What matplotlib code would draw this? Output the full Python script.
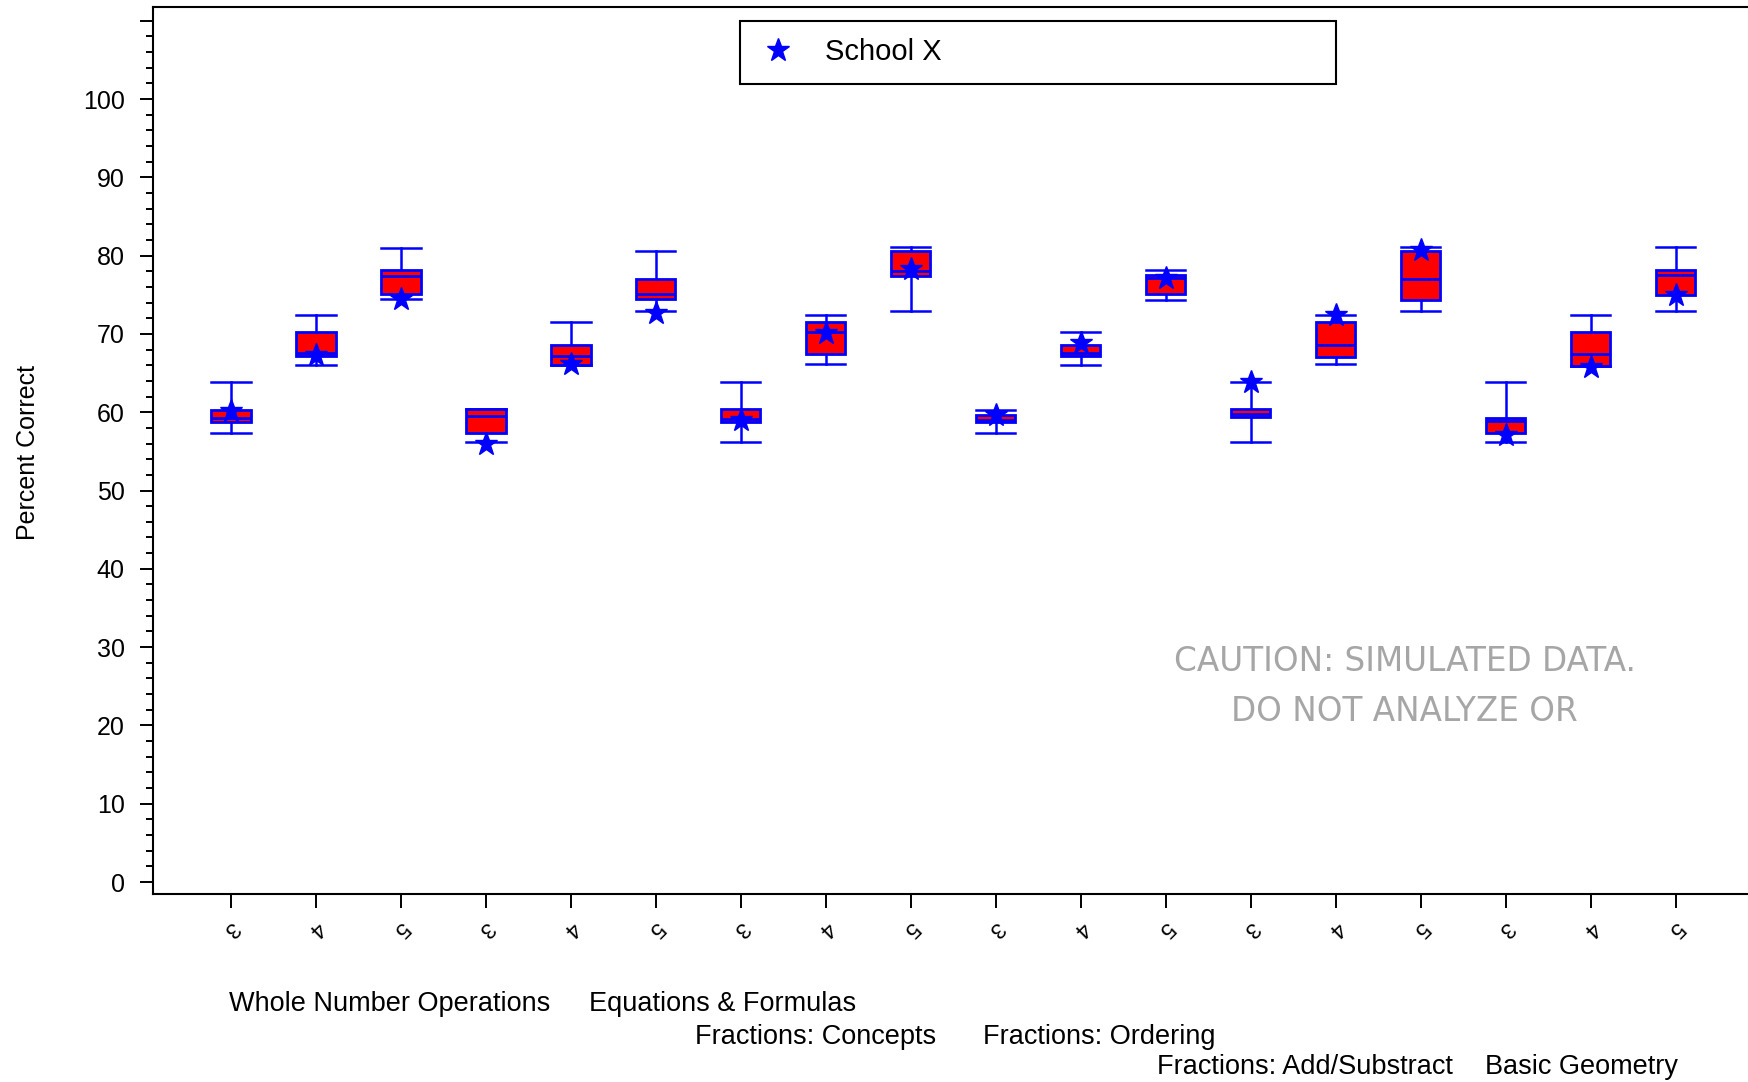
import matplotlib
matplotlib.use("Agg")
import matplotlib.pyplot as plt
from matplotlib.ticker import MultipleLocator, FixedLocator
from matplotlib.lines import Line2D

plt.rcParams['font.family'] = ['Liberation Sans', 'DejaVu Sans']

# ---------------- data ----------------
categories = ["Whole Number Operations", "Equations & Formulas",
              "Fractions: Concepts", "Fractions: Ordering",
              "Fractions: Add/Substract", "Basic Geometry"]
grades = ["3", "4", "5"]

whisker_low = [57.4, 66.0, 74.4, 56.2, 66.0, 72.9, 56.2, 66.2, 72.9,
               57.4, 66.0, 74.3, 56.2, 66.2, 72.9, 56.2, 65.9, 72.9]
q1 = [58.7, 67.2, 75.1, 57.4, 66.0, 74.4, 58.7, 67.4, 77.4,
      58.7, 67.2, 75.1, 59.4, 67.1, 74.3, 57.3, 65.9, 75.0]
median = [59.2, 67.5, 77.4, 59.5, 67.2, 75.1, 59.1, 70.3, 78.0,
          59.0, 67.6, 77.2, 59.8, 68.6, 77.0, 58.9, 67.4, 77.5]
q3 = [60.3, 70.3, 78.2, 60.4, 68.6, 77.0, 60.4, 71.5, 80.6,
      59.6, 68.6, 77.5, 60.4, 71.5, 80.6, 59.2, 70.3, 78.2]
whisker_high = [63.8, 72.4, 81.0, 60.4, 71.5, 80.6, 63.8, 72.4, 81.1,
                60.3, 70.3, 78.2, 63.8, 72.4, 81.1, 63.8, 72.4, 81.1]
school_x = [60.1, 67.3, 74.4, 55.9, 66.2, 72.7, 59.0, 70.1, 78.3,
            59.6, 68.8, 77.1, 63.8, 72.4, 80.7, 57.1, 65.8, 75.0]

tick_labels = grades * len(categories)

# ---------------- figure ----------------
W, H = 1748, 1082
fig = plt.figure(figsize=(W / 100, H / 100), dpi=100)
ax_left = 153 / W
ax_bottom = 1 - 894 / H
ax_top = 1 - 7 / H
ax = fig.add_axes([ax_left, ax_bottom, 1 - ax_left, ax_top - ax_bottom])

blue = '#0000ff'
red = '#ff0000'
positions = list(range(1, len(q1) + 1))
stats = []
for i in range(len(q1)):
    stats.append(dict(whislo=whisker_low[i], q1=q1[i], med=median[i],
                      q3=q3[i], whishi=whisker_high[i], fliers=[]))

ax.bxp(stats, positions=positions, widths=0.46, patch_artist=True,
       showfliers=False,
       boxprops=dict(facecolor=red, edgecolor=blue, linewidth=2.0),
       medianprops=dict(color=blue, linewidth=2.0),
       whiskerprops=dict(color=blue, linewidth=1.8),
       capprops=dict(color=blue, linewidth=1.8),
       capwidths=0.46)

ax.plot(positions, school_x, linestyle='none', marker='*', color=blue,
        markersize=17, zorder=5)

ax.set_xlim(0.082, 18.85)
ax.set_ylim(-1.53, 111.75)

# y axis
ax.yaxis.set_major_locator(FixedLocator(list(range(0, 111, 10))))
ax.yaxis.set_minor_locator(MultipleLocator(2))
ax.set_yticklabels([str(v) if v <= 100 else '' for v in range(0, 111, 10)])
ax.tick_params(axis='y', which='major', direction='out', length=9.5, width=1.4,
               labelsize=18, pad=11)
ax.tick_params(axis='y', which='minor', direction='out', length=5, width=1.4)

# x axis
ax.set_xticks(positions)
ax.set_xticklabels(tick_labels, rotation=225, fontsize=16,
                   ha='center', va='center')
ax.tick_params(axis='x', direction='out', length=10, width=1.4, pad=15)

for s in ['left', 'bottom', 'top']:
    ax.spines[s].set_linewidth(1.5)
ax.spines['right'].set_visible(False)

ax.set_ylabel('Percent Correct', fontsize=18)
ax.yaxis.set_label_coords(-(153 - 40) / (W - 153), 0.4977)

# legend
handle = Line2D([], [], linestyle='none', marker='*', color=blue, markersize=17)
leg = fig.legend([handle], ['School X'], loc='center',
                 bbox_to_anchor=(740 / W, 1 - 84 / H, 596 / W, 64 / H),
                 mode='expand', fontsize=21, frameon=True, fancybox=False,
                 edgecolor='black', framealpha=1, borderpad=0.6,
                 handlelength=1.4, handletextpad=0.9, borderaxespad=0)
leg.get_frame().set_linewidth(1.5)

# watermark
for txt, yy in [('CAUTION: SIMULATED DATA.', 593), ('DO NOT ANALYZE OR', 638)]:
    fig.text(1260 * 1.1148 / W, 1 - yy * 1.1148 / H, txt,
             family=['DejaVu Sans'], fontsize=23.5, color='#a6a6a6',
             ha='center', va='center')

# category labels under the axis
cat_x = [205, 528, 623, 882, 1038, 1332]
cat_y = [901, 901, 930, 930, 957, 957]
for name, x, y in zip(categories, cat_x, cat_y):
    fig.text(x * 1.1148 / W, 1 - y * 1.1148 / H, name, fontsize=19.5,
             ha='left', va='center')

fig.savefig('out.png', dpi=100)
